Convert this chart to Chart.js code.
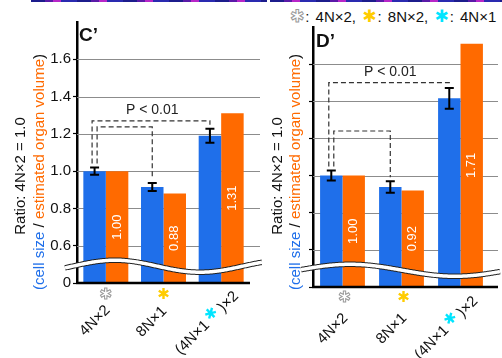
<!DOCTYPE html>
<html>
<head>
<meta charset="utf-8">
<script src="https://cdn.jsdelivr.net/npm/chart.js@4.4.1/dist/chart.umd.min.js"></script>
<style>
    body { margin: 0; background: #fff; font-family: "Liberation Sans", Arial, sans-serif; }
    #wrap { position: relative; width: 502px; height: 358px; overflow: hidden; }
    canvas { position: absolute; top: 0; }
    .stripe { position: absolute; top: 0; height: 2px;
        background: repeating-linear-gradient(90deg, #1c1c8c 0 14px, #5a1aa8 14px 22px, #b826c8 22px 30px, #2a2ab0 30px 46px); }
    .ytitle { position: absolute; white-space: nowrap; font-size: 15px; line-height: 1;
        transform: translate(-50%, -50%) rotate(-90deg); color: #111; }
    .blue { color: #1f6fea; }
    .orange { color: #ff6a00; }
    .panel-id { position: absolute; font-size: 19px; font-weight: bold; color: #111; }
    #legend { position: absolute; left: 290px; top: 6px; font-size: 15px; word-spacing: 2px; white-space: nowrap; color: #111; }
    #legend .star { font-family: "DejaVu Sans", sans-serif; font-size: 17px; margin-right: 1px; }
</style>
</head>
<body>
<div id="wrap">
    <div class="stripe" style="left:31px;width:236px"></div>
    <div class="stripe" style="left:270px;width:232px"></div>
    <div id="legend"><span class="star" style="color:#fff;-webkit-text-stroke:1px #999">✱</span>: 4N×2, <span class="star" style="color:#ffcc00">✱</span>: 8N×2, <span class="star" style="color:#00e5ff">✱</span>: 4N×1</div>

    <canvas id="chartC" width="262" height="358" style="left:0"></canvas>
    <canvas id="chartD" width="240" height="358" style="left:262px"></canvas>

    <div class="ytitle" style="left:19px;top:176px">Ratio: 4N×2 = 1.0</div>
    <div class="ytitle" style="left:38px;top:172px"><span class="blue">(cell size</span> / <span class="orange">estimated organ volume</span>)</div>
    <div class="ytitle" style="left:276px;top:176px">Ratio: 4N×2 = 1.0</div>
    <div class="ytitle" style="left:294px;top:172px"><span class="blue">(cell size</span> / <span class="orange">estimated organ volume</span>)</div>

    <div class="panel-id" style="left:79px;top:24px">C’</div>
    <div class="panel-id" style="left:316px;top:30px">D’</div>
</div>

<script>
// categories (✱ marks where the coloured asterisk sits inside the label)
const categories = ['4N×2', '8N×1', '(4N×1 ✱)×2'];
const markerColors = ['#9a9a9a', '#ffcc00', '#00e5ff'];

// panel C'
const cellSizeC = [1.00, 0.915, 1.19];
const cellSizeErrC = [0.02, 0.022, 0.038];
const organVolumeC = [1.00, 0.88, 1.31];
const bracketsC = [{ from: 0, to: 2, level: 1.27 }, { from: 0, to: 1, level: 1.237 }];

// panel D'
const cellSizeD = [1.00, 0.938, 1.416];
const cellSizeErrD = [0.027, 0.031, 0.056];
const organVolumeD = [1.00, 0.92, 1.71];
const bracketsD = [{ from: 0, to: 2, level: 1.50 }, { from: 0, to: 1, level: 1.24 }];

// axis (broken: bottom tick is shown as 0)
const yMin = 0.4, yMax = 1.8;
const yTicks = [0.6, 0.8, 1.0, 1.2, 1.4, 1.6];
const pLabel = 'P < 0.01';

const BLUE = '#1f6fea';
const ORANGE = '#ff6a00';
const LABEL_FONT = '15px "Liberation Sans", Arial';

function drawStar(ctx, x, y, color) {
    ctx.save();
    ctx.font = '15px "DejaVu Sans"';
    ctx.textAlign = 'center';
    ctx.textBaseline = 'middle';
    if (color === markerColors[0]) {
        // hollow grey asterisk
        ctx.fillStyle = '#fff';
        ctx.fillText('✱', x, y);
        ctx.strokeStyle = color;
        ctx.lineWidth = 1;
        ctx.strokeText('✱', x, y);
    } else {
        ctx.fillStyle = color;
        ctx.fillText('✱', x, y);
    }
    ctx.restore();
}

function makePanelPlugin(cfg) {
    return {
        id: 'panel',
        beforeDatasetsDraw(chart) {
            const { ctx, chartArea, scales: { y } } = chart;
            ctx.save();
            ctx.strokeStyle = '#8c8c8c';
            ctx.lineWidth = 1.2;
            yTicks.forEach(v => {
                const py = Math.round(y.getPixelForValue(v)) + 0.5;
                ctx.beginPath();
                ctx.moveTo(chartArea.left, py);
                ctx.lineTo(cfg.gridRight, py);
                ctx.stroke();
            });
            ctx.restore();
        },
        afterDatasetsDraw(chart) {
            const { ctx, scales: { y } } = chart;
            const blue = chart.getDatasetMeta(0).data;
            const orange = chart.getDatasetMeta(1).data;
            const bottom = y.getPixelForValue(yMin);

            // value labels inside orange bars
            ctx.save();
            ctx.fillStyle = '#fff';
            ctx.font = '13px "Liberation Sans", Arial';
            ctx.textAlign = 'center';
            ctx.textBaseline = 'middle';
            orange.forEach((bar, i) => {
                const top = y.getPixelForValue(cfg.organ[i]);
                ctx.save();
                ctx.translate(bar.x, (top + bottom) / 2);
                ctx.rotate(-Math.PI / 2);
                ctx.fillText(cfg.organ[i].toFixed(2), 0, 0);
                ctx.restore();
            });
            ctx.restore();

            // error bars
            ctx.save();
            ctx.strokeStyle = '#000';
            ctx.lineWidth = 2;
            blue.forEach((bar, i) => {
                const top = y.getPixelForValue(cfg.cell[i] + cfg.err[i]);
                const bot = y.getPixelForValue(cfg.cell[i] - cfg.err[i]);
                ctx.beginPath();
                ctx.moveTo(bar.x, top); ctx.lineTo(bar.x, bot);
                ctx.moveTo(bar.x - 4.5, top); ctx.lineTo(bar.x + 4.5, top);
                ctx.moveTo(bar.x - 4.5, bot); ctx.lineTo(bar.x + 4.5, bot);
                ctx.stroke();
            });
            ctx.restore();

            // significance brackets
            ctx.save();
            ctx.strokeStyle = '#333';
            ctx.lineWidth = 1.2;
            ctx.setLineDash([5, 3]);
            const leftShift = [-2.5, 2.5];
            cfg.brackets.forEach((b, k) => {
                const xl = blue[b.from].x + leftShift[k];
                const xr = blue[b.to].x;
                const yl = y.getPixelForValue(b.level);
                const yEndL = y.getPixelForValue(cfg.cell[b.from] + cfg.err[b.from]) - 4;
                const yEndR = y.getPixelForValue(cfg.cell[b.to] + cfg.err[b.to]) - 4;
                ctx.beginPath();
                ctx.moveTo(xl, yEndL);
                ctx.lineTo(xl, yl);
                ctx.lineTo(xr, yl);
                ctx.lineTo(xr, yEndR);
                ctx.stroke();
            });
            ctx.restore();

            const outer = cfg.brackets[0];
            ctx.save();
            ctx.fillStyle = '#222';
            ctx.font = '14px "Liberation Sans", Arial';
            ctx.textAlign = 'center';
            ctx.textBaseline = 'middle';
            ctx.fillText(pLabel, (blue[outer.from].x + blue[outer.to].x) / 2, y.getPixelForValue(outer.level) - 11);
            ctx.restore();
        },
        afterDraw(chart) {
            const { ctx, chartArea, scales: { x, y } } = chart;

            // x axis line
            ctx.save();
            ctx.strokeStyle = '#000';
            ctx.lineWidth = 2.5;
            ctx.beginPath();
            ctx.moveTo(chartArea.left - 1, chartArea.bottom);
            ctx.lineTo(cfg.axisRight, chartArea.bottom);
            ctx.stroke();
            ctx.restore();

            // axis break wave
            const cy = y.getPixelForValue(0.49);
            const crest = chartArea.left + cfg.waveCrest;
            ctx.save();
            ctx.beginPath();
            for (let px = chartArea.left - 12; px <= cfg.gridRight + 2; px++) {
                const py = cy - 6 * Math.cos(2 * Math.PI * (px - crest) / cfg.waveLen);
                if (px === chartArea.left - 12) ctx.moveTo(px, py); else ctx.lineTo(px, py);
            }
            ctx.strokeStyle = '#222';
            ctx.lineWidth = 5.5;
            ctx.stroke();
            ctx.strokeStyle = '#fff';
            ctx.lineWidth = 3.5;
            ctx.stroke();
            ctx.restore();

            // category labels
            ctx.save();
            ctx.textBaseline = 'middle';
            categories.forEach((label, i) => {
                const cx = x.getPixelForValue(i);
                const off = cfg.labelOffsets[i];
                const parts = label.split('✱');
                ctx.save();
                ctx.font = LABEL_FONT;
                ctx.fillStyle = '#111';
                ctx.translate(cx + off[0], chartArea.bottom + off[1]);
                ctx.rotate(-Math.PI / 4);
                ctx.textAlign = 'right';
                if (parts.length === 2) {
                    const w1 = ctx.measureText(parts[1]).width;
                    const mw = 19;
                    ctx.fillText(parts[1], 0, 0);
                    drawStar(ctx, -w1 - mw / 2, -3, markerColors[i]);
                    ctx.fillText(parts[0].trimEnd(), -w1 - mw, 0);
                } else {
                    ctx.fillText(parts[0], 0, 0);
                }
                ctx.restore();
                if (parts.length === 1) {
                    drawStar(ctx, cx + cfg.starOffset[0], chartArea.bottom + cfg.starOffset[1], markerColors[i]);
                }
            });
            ctx.restore();
        }
    };
}

function makeChart(canvasId, cfg) {
    return new Chart(document.getElementById(canvasId), {
        type: 'bar',
        data: {
            labels: categories,
            datasets: [
                { label: 'cell size', data: cfg.cell, backgroundColor: BLUE, borderWidth: 0 },
                { label: 'estimated organ volume', data: cfg.organ, backgroundColor: ORANGE, borderWidth: 0 }
            ]
        },
        options: {
            responsive: false,
            animation: false,
            devicePixelRatio: 1,
            datasets: { bar: { barPercentage: 1, categoryPercentage: cfg.catPct } },
            layout: { padding: { left: 0, top: cfg.top, right: cfg.padRight, bottom: 358 - cfg.bottom } },
            scales: {
                x: { display: false },
                y: {
                    min: yMin, max: yMax,
                    afterFit: scale => { scale.width = cfg.axisX; },
                    ticks: {
                        stepSize: 0.2,
                        padding: 2,
                        color: '#111',
                        font: { family: '"Liberation Sans", Arial', size: 15 },
                        callback: v => {
                            if (!cfg.showLabels) return '';
                            if (Math.abs(v - yMin) < 1e-6) return '0';
                            if (v > 1.7) return '';
                            return v.toFixed(1);
                        }
                    },
                    grid: {
                        drawOnChartArea: false,
                        tickLength: 4,
                        tickWidth: 1.2,
                        color: c => (c.tick && c.tick.value > 1.7) ? 'rgba(0,0,0,0)' : '#000'
                    },
                    border: { display: true, color: '#000', width: 2.5 }
                }
            },
            plugins: { legend: { display: false }, tooltip: { enabled: false } }
        },
        plugins: [makePanelPlugin(cfg)]
    });
}

makeChart('chartC', {
    cell: cellSizeC, err: cellSizeErrC, organ: organVolumeC, brackets: bracketsC,
    axisX: 77, top: 22, bottom: 283, padRight: 12, catPct: 0.78,
    gridRight: 260, axisRight: 250, waveCrest: 38, waveLen: 170,
    showLabels: true,
    labelOffsets: [[2, 25], [1, 26], [15, 11]],
    starOffset: [0, 12]
});

makeChart('chartD', {
    cell: cellSizeD, err: cellSizeErrD, organ: organVolumeD, brackets: bracketsD,
    axisX: 51, top: 27, bottom: 287, padRight: 12, catPct: 0.76,
    gridRight: 236, axisRight: 236, waveCrest: 37, waveLen: 210,
    showLabels: false,
    labelOffsets: [[3, 29], [3, 29], [15, 12]],
    starOffset: [2, 11]
});
</script>
</body>
</html>
